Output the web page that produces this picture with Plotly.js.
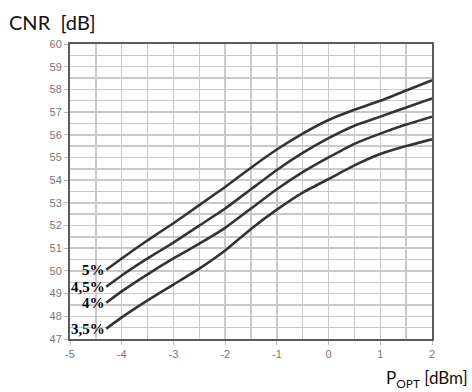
<!DOCTYPE html>
<html>
<head>
<meta charset="utf-8">
<script src="https://cdn.plot.ly/plotly-3.0.1.min.js"></script>
<style>html,body{margin:0;padding:0;background:#fff;}#chart{width:472px;height:392px;}</style>
</head>
<body>
<div id="chart"></div>
<script>
const xValues = [-4.3, -4, -3.5, -3, -2.5, -2, -1.5, -1, -0.5, 0, 0.5, 1, 1.5, 2];
const cnr5 =   [50.05, 50.55, 51.35, 52.1, 52.9, 53.7, 54.55, 55.35, 56.05, 56.65, 57.1, 57.5, 57.95, 58.4];
const cnr45 =  [49.3, 49.8, 50.55, 51.25, 52.0, 52.75, 53.6, 54.45, 55.2, 55.85, 56.4, 56.8, 57.2, 57.6];
const cnr4 =   [48.6, 49.1, 49.85, 50.55, 51.2, 51.9, 52.75, 53.6, 54.35, 55.0, 55.6, 56.05, 56.45, 56.8];
const cnr35 =  [47.45, 47.95, 48.7, 49.4, 50.1, 50.9, 51.85, 52.7, 53.45, 54.05, 54.65, 55.15, 55.5, 55.8];
const seriesLabels = ["5%", "4,5%", "4%", "3,5%"];
const seriesData = [cnr5, cnr45, cnr4, cnr35];
const xTickVals = [-5, -4, -3, -2, -1, 0, 1, 2];
const xTickText = ["-5", "-4", "-3", "-2", "-1", "0", "1", "2"];

const traces = seriesData.map((ys, i) => ({
  x: xValues, y: ys, type: "scatter", mode: "lines",
  name: seriesLabels[i],
  line: {color: "#333333", width: 2.6, shape: "spline", smoothing: 0.5},
  hoverinfo: "skip"
}));

const labelAnnotations = seriesData.map((ys, i) => ({
  x: xValues[0], y: ys[0], xref: "x", yref: "y",
  text: "<b>" + seriesLabels[i] + "</b>", showarrow: false,
  xanchor: "right", yanchor: "middle", xshift: 1,
  font: {family: "Liberation Serif, Times New Roman, serif", size: 15, color: "#000"}
}));

const layout = {
  width: 472, height: 392,
  margin: {l: 70, r: 40, t: 44, b: 53},
  paper_bgcolor: "#fff", plot_bgcolor: "#fff",
  showlegend: false,
  xaxis: {
    range: [-5, 2], tickmode: "array", tickvals: xTickVals, ticktext: xTickText,
    showgrid: true, gridcolor: "#c9c9c9", gridwidth: 1.5,
    minor: {dtick: 0.5, tick0: -5, showgrid: true, gridcolor: "#c9c9c9", gridwidth: 1.5},
    ticks: "outside", ticklen: 4, tickcolor: "#bbbbbb",
    tickfont: {family: "Liberation Sans, Arial, sans-serif", size: 11, color: "#777"},
    showline: true, linecolor: "#5a5a5a", linewidth: 2, mirror: true,
    zeroline: false, fixedrange: true
  },
  yaxis: {
    range: [47, 60], dtick: 1, tick0: 47,
    showgrid: true, gridcolor: "#c9c9c9", gridwidth: 1.5,
    minor: {dtick: 0.5, showgrid: true, gridcolor: "#c9c9c9", gridwidth: 1.5},
    ticks: "outside", ticklen: 4, tickcolor: "#bbbbbb",
    tickfont: {family: "Liberation Sans, Arial, sans-serif", size: 11, color: "#777"},
    showline: true, linecolor: "#5a5a5a", linewidth: 2, mirror: true,
    zeroline: false, fixedrange: true
  },
  annotations: labelAnnotations.concat([
    {xref: "paper", yref: "paper", x: -0.175, y: 1.0, yshift: 22,
     xanchor: "left", yanchor: "middle", showarrow: false,
     text: "CNR  [dB]", font: {family: "Lato, Open Sans, sans-serif", size: 20, color: "#111"}},
    {xref: "paper", yref: "paper", x: 1.105, y: 0, yshift: -40,
     xanchor: "right", yanchor: "middle", showarrow: false,
     text: "P<sub>OPT</sub> [dBm]", font: {family: "Lato, Open Sans, sans-serif", size: 17, color: "#111"}}
  ])
};

Plotly.newPlot("chart", traces, layout, {displayModeBar: false, staticPlot: true});
</script>
</body>
</html>
